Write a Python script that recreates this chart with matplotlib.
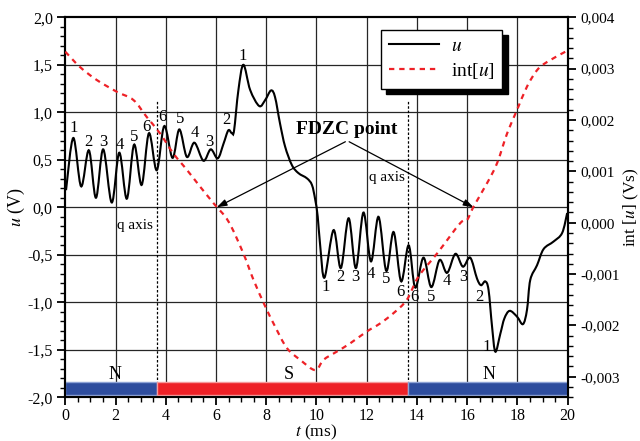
import numpy as np
import matplotlib
matplotlib.use("Agg")
import matplotlib.pyplot as plt
from matplotlib.path import Path
from matplotlib.patches import PathPatch, Rectangle
from matplotlib.lines import Line2D
from matplotlib.ticker import MultipleLocator, FuncFormatter

plt.rcParams['font.family'] = ['Liberation Serif', 'DejaVu Serif']
plt.rcParams['mathtext.fontset'] = 'stix'

# ---------------- data ----------------
t_u = [0.03, 0.32, 0.63, 0.94, 1.22, 1.51, 1.85, 2.15, 2.45, 2.74, 3.04, 3.33, 3.64, 3.94,
       4.27, 4.54, 4.84, 5.14, 5.50, 5.79, 6.07, 6.30, 6.49, 6.63, 6.72, 6.89, 7.09, 7.36,
       7.72, 7.96, 8.19, 8.35, 8.55, 8.75, 9.02, 9.28, 9.62, 9.82, 9.95, 10.05, 10.15, 10.32,
       10.68, 10.97, 11.28, 11.57, 11.87, 12.17, 12.47, 12.78, 13.07, 13.37, 13.67, 13.93,
       14.26, 14.57, 14.90, 15.20, 15.53, 15.83, 16.12, 16.39, 16.55, 16.72, 16.85, 16.99,
       17.12, 17.32, 17.48, 17.69, 17.98, 18.22, 18.38, 18.51, 18.78, 19.04, 19.44, 19.78, 19.98]
u_vals = [0.18, 0.73, 0.22, 0.60, 0.10, 0.61, 0.05, 0.575, 0.09, 0.66, 0.235, 0.78, 0.39, 0.855,
          0.52, 0.82, 0.53, 0.68, 0.49, 0.61, 0.515, 0.67, 0.81, 0.78, 0.81, 1.23, 1.50, 1.235,
          1.066, 1.13, 1.23, 1.16, 0.88, 0.64, 0.445, 0.36, 0.305, 0.235, 0.08, -0.10, -0.41, -0.74,
          -0.24, -0.64, -0.115, -0.64, -0.055, -0.57, -0.10, -0.67, -0.26, -0.78, -0.40, -0.845,
          -0.53, -0.84, -0.555, -0.69, -0.49, -0.625, -0.53, -0.75, -0.82, -0.78, -0.87, -1.257,
          -1.52, -1.33, -1.17, -1.09, -1.15, -1.23, -1.08, -0.765, -0.61, -0.44, -0.36, -0.27, -0.06]

t_int = [0.0, 0.59, 1.25, 2.05, 2.71, 3.24, 3.77, 4.30, 4.84, 5.37, 5.90, 6.50, 7.09, 7.49,
         7.96, 8.35, 8.82, 9.35, 9.95, 10.28, 10.81, 11.34, 12.0, 12.54, 13.07, 13.6, 14.06,
         14.8, 15.72, 15.99, 16.25, 16.79, 17.19, 17.59, 17.98, 18.38, 18.78, 19.18, 19.91]
int_vals = [0.00333, 0.00303, 0.00278, 0.00255, 0.00239, 0.00206, 0.00174, 0.00135, 0.00103,
            0.0007, 0.00038, 0.00002, -0.0006, -0.00111, -0.00163, -0.00202, -0.00244, -0.00267,
            -0.00287, -0.00267, -0.00251, -0.00235, -0.00212, -0.00196, -0.00176, -0.0015,
            -0.00105, -0.0006, -0.00001, 0.00005, 0.00031, 0.00077, 0.00116, 0.00174, 0.00219,
            0.00265, 0.00297, 0.00313, 0.00333]

# peak labels (text, t, V)
peak_labels = [("1", 0.32, 0.83), ("2", 0.92, 0.69), ("3", 1.51, 0.69), ("4", 2.18, 0.656),
               ("5", 2.75, 0.743), ("6", 3.24, 0.85), ("6", 3.86, 0.954), ("5", 4.57, 0.93),
               ("4", 5.14, 0.78), ("3", 5.74, 0.69), ("2", 6.40, 0.916), ("1", 7.07, 1.59),
               ("1", 10.35, -0.835), ("2", 10.94, -0.737), ("3", 11.54, -0.737), ("4", 12.18, -0.70),
               ("5", 12.76, -0.755), ("6", 13.33, -0.89), ("6", 13.9, -0.94), ("5", 14.57, -0.94),
               ("4", 15.17, -0.78), ("3", 15.83, -0.737), ("2", 16.49, -0.94), ("1", 16.76, -1.47)]

# pole segments (label, label position, start, end, colour)
seg_labels = ["N", "S", "N"]
seg_label_t = [1.98, 8.89, 16.85]
seg_start = [0.0, 3.65, 13.65]
seg_end = [3.65, 13.65, 20.0]
seg_colors = ["#2e4d9e", "#ee2127", "#2e4d9e"]
seg_edges = ["#8ea3d6", "#f59a9c", "#8ea3d6"]
q_axes = [3.65, 13.65]

x_ticks = [0, 2, 4, 6, 8, 10, 12, 14, 16, 18, 20]


def smooth_path(xs, ys):
    xs = np.asarray(xs, float)
    ys = np.asarray(ys, float)
    P = np.column_stack([xs, ys])
    n = len(P)
    verts = [P[0]]
    codes = [Path.MOVETO]
    for i in range(n - 1):
        p0 = P[i - 1] if i > 0 else P[i]
        p1 = P[i]
        p2 = P[i + 1]
        p3 = P[i + 2] if i + 2 < n else P[i + 1]
        c1 = p1 + (p2 - p0) / 6.0
        c2 = p2 - (p3 - p1) / 6.0
        verts += [c1, c2, p2]
        codes += [Path.CURVE4] * 3
    return Path(np.array(verts), codes)


fig = plt.figure(figsize=(6.4, 4.41), dpi=100)
ax = fig.add_axes([0.102, 0.0991, 0.785, 0.8617])
ax2 = ax.twinx()

ax.set_xlim(0, 20)
ax.set_ylim(-2.0, 2.0)
ax2.set_ylim(-0.0034, 0.004)

# grid
for xv in x_ticks[1:-1]:
    ax.axvline(xv, color='0.15', lw=0.9, zorder=1)
for yv in np.arange(-1.5, 2.0, 0.5):
    ax.axhline(yv, color='0.15', lw=0.9, zorder=1)

# u curve
ax.add_patch(PathPatch(smooth_path(t_u, u_vals), facecolor='none', edgecolor='black',
                       lw=1.5, zorder=4, transform=ax.transData))
# int curve
ax2.add_patch(PathPatch(smooth_path(t_int, int_vals), facecolor='none', edgecolor='#ee2127',
                        lw=1.6, linestyle=(0, (2.4, 2.2)), zorder=3, transform=ax2.transData))

# pole bar
for lab, lt, s, e, c, ec in zip(seg_labels, seg_label_t, seg_start, seg_end, seg_colors, seg_edges):
    ax.add_patch(Rectangle((s, -1.975), e - s, 0.135, facecolor=c, edgecolor=ec, lw=1.0, zorder=5))
    ax.text(lt, -1.76, lab, ha='center', va='center', fontsize=13, zorder=6)

# q axis lines
for q in q_axes:
    ax.plot([q, q], [-2.0, 1.13], color='black', lw=0.9, ls=(0, (2, 1.5)), zorder=4)
ax.text(3.5, -0.19, "q axis", ha='right', va='center', fontsize=11, zorder=6)
ax.text(13.5, 0.31, "q axis", ha='right', va='center', fontsize=11, zorder=6)

# peak labels
for txt, tx, ty in peak_labels:
    ax.text(tx, ty, txt, ha='center', va='center', fontsize=12, zorder=6)

# FDZC
ax.text(11.2, 0.82, "FDZC point", ha='center', va='center', fontsize=14, fontweight='bold', zorder=6)
for start, end in [((11.15, 0.69), (6.03, 0.0)), ((11.3, 0.69), (16.25, 0.0))]:
    ax.annotate("", xy=end, xytext=start,
                arrowprops=dict(arrowstyle='-|>,head_length=0.6,head_width=0.2', color='black',
                                lw=0.9, shrinkA=0, shrinkB=0), zorder=6)

# ticks
fmt_left = FuncFormatter(lambda v, p: f"{v:.1f}".replace('.', ','))
fmt_right = FuncFormatter(lambda v, p: f"{v:.3f}".replace('.', ','))
fmt_x = FuncFormatter(lambda v, p: f"{v:.0f}")
ax.set_xticks(x_ticks)
ax.xaxis.set_major_formatter(fmt_x)
ax.xaxis.set_minor_locator(MultipleLocator(0.5))
ax.yaxis.set_major_locator(MultipleLocator(0.5))
ax.yaxis.set_minor_locator(MultipleLocator(0.1))
ax.yaxis.set_major_formatter(fmt_left)
ax2.yaxis.set_major_locator(MultipleLocator(0.001))
ax2.yaxis.set_minor_locator(MultipleLocator(0.0002))
ax2.yaxis.set_major_formatter(fmt_right)

for a in (ax, ax2):
    a.tick_params(which='major', direction='out', length=6, width=1.3, labelsize=11.5, pad=3)
    a.tick_params(which='minor', direction='out', length=3.5, width=1.0)
    for sp in a.spines.values():
        sp.set_linewidth(1.5)
ax.tick_params(axis='x', which='both', top=False)
ax.tick_params(axis='x', which='major', pad=1.5)
ax2.tick_params(axis='y', which='major', labelsize=11, pad=3)

ax.set_xlabel(r"$t$ (ms)", fontsize=12.5, labelpad=-1)
ax.set_ylabel(r"$u$ (V)", fontsize=13, labelpad=0)
ax2.set_ylabel(r"int [$u$] (Vs)", fontsize=12.5, labelpad=1.5)

# legend
handles = [Line2D([], [], color='black', lw=1.5),
           Line2D([], [], color='#ee2127', lw=1.6, ls=(0, (2.4, 2.2)))]
leg = ax.legend(handles, [r"$u$", r"int[$u$]"], loc='upper left',
                bbox_to_anchor=(0.628, 0.967), borderaxespad=0, fontsize=14, frameon=True,
                fancybox=False, edgecolor='black', framealpha=1,
                shadow={'color': 'black', 'alpha': 1, 'ox': 4, 'oy': -4},
                handlelength=2.6, borderpad=0.4, labelspacing=0.3, handletextpad=0.6)
leg.get_frame().set_linewidth(1.0)
leg.set_zorder(10)

fig.savefig("out.png", dpi=100)
